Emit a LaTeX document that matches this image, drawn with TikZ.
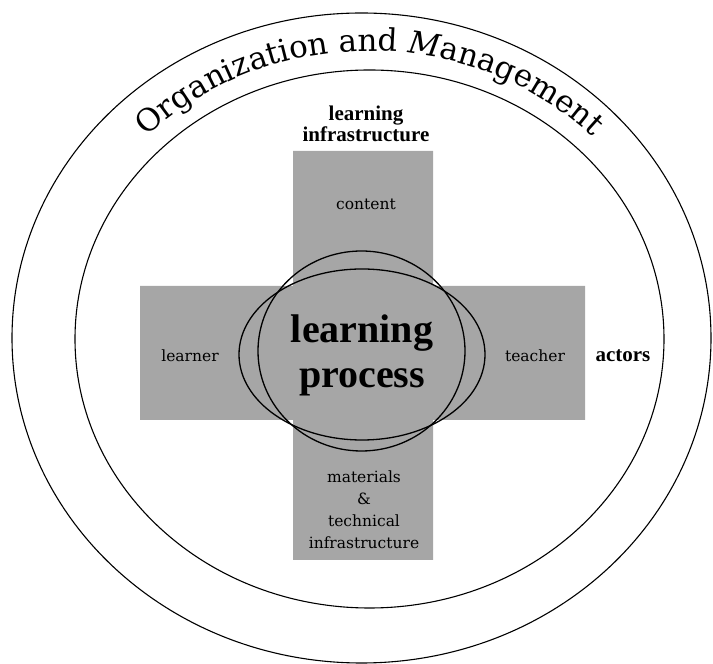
\documentclass[tikz,border=0pt]{standalone}
\usepackage{fontspec}
\setmainfont{Liberation Serif}
\newfontfamily\dvs{DejaVu Serif}
\usetikzlibrary{decorations.text}
\newcommand\arcf{\dvs\fontsize{31}{31}\selectfont}
\newcommand\arcfi{\dvs\itshape\fontsize{31}{31}\selectfont}
\begin{document}
\begin{tikzpicture}[x=1pt,y=1pt,
  ring/.style={line width=1.1pt},
  lens/.style={line width=1.3pt},
  crossfill/.style={fill=black!35},
  lab/.style={font=\dvs\fontsize{15.5}{22}\selectfont, inner sep=0pt, anchor=base, align=center},
  boldlab/.style={font=\bfseries\fontsize{21}{21}\selectfont, inner sep=0pt, anchor=base, align=center},
  biglab/.style={font=\bfseries\fontsize{40}{45}\selectfont, inner sep=0pt, anchor=base, align=center}]
\useasboundingbox (0,0) rectangle (713,664);
% cross
\fill[crossfill] (293,104) rectangle (433,513) (140,244) rectangle (585,378);
% rings
\draw[ring] (361.5,326) ellipse [x radius=349.5, y radius=325];
\draw[ring] (369.5,325) ellipse [x radius=294.5, y radius=269];
% central lens
\draw[lens] (361.5,313) ellipse [x radius=103.5, y radius=100];
\draw[lens] (362,309.5) ellipse [x radius=123, y radius=85.5];
% arc title
\path[decorate, decoration={text along path, text align=center,
  text={|\arcf|Organization and |\arcfi|M|\arcf|anagement}}]
  (56.5,325) arc[start angle=180, end angle=0, x radius=313, y radius=288];
% labels (base anchor = baseline of the last line)
\node[boldlab] (infra) at (366,522) {learning\\infrastructure};
\node[lab] (content) at (366,454) {content};
\node[biglab] (lp) at (362,276) {learning\\process};
\node[lab] (learner) at (190,302) {learner};
\node[lab] (teacher) at (535,302) {teacher};
\node[boldlab] (actors) at (623,302) {actors};
\node[lab] (materials) at (364,115) {materials\\\&\\technical\\infrastructure};
\end{tikzpicture}
\end{document}
